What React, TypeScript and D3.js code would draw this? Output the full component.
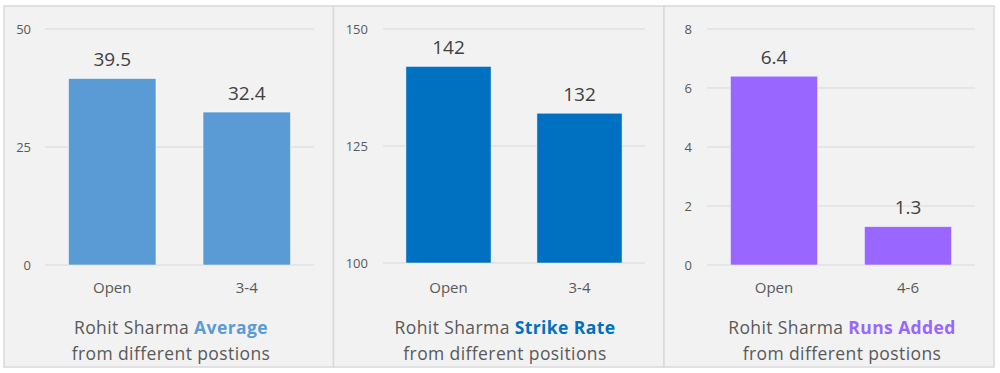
import React from 'react';
import * as d3 from 'd3';

// data
const averageCats = ['Open', '3-4'];
const averageVals = [39.5, 32.4];
const averageTicks = [0, 25, 50];

const strikeCats = ['Open', '3-4'];
const strikeVals = [142, 132];
const strikeTicks = [100, 125, 150];

const runsCats = ['Open', '4-6'];
const runsVals = [6.4, 1.3];
const runsTicks = [0, 2, 4, 6, 8];

const panels = [
  { cats: averageCats, vals: averageVals, ticks: averageTicks, label: 'Average', second: 'from different postions',
    color: '#5b9bd5', x0: 4, x1: 333.5, plot: [45, 314], base: 265, tickX: 31, titleX: 171 },
  { cats: strikeCats, vals: strikeVals, ticks: strikeTicks, label: 'Strike Rate', second: 'from different positions',
    color: '#0070c0', x0: 333.5, x1: 664, plot: [383, 645], base: 263, tickX: 368, titleX: 505 },
  { cats: runsCats, vals: runsVals, ticks: runsTicks, label: 'Runs Added', second: 'from different postions',
    color: '#9966ff', x0: 664, x1: 994, plot: [707, 975], base: 265, tickX: 692, titleX: 842 },
];

const TOP = 29;
const titleFont = '"Open Sans", "DejaVu Sans", sans-serif';
const valueFont = '"Open Sans", "Noto Sans", sans-serif';

function Panel({ p }: { p: typeof panels[number] }) {
  const x = d3.scaleBand<string>().domain(p.cats).range(p.plot as [number, number])
    .paddingInner(0.35).paddingOuter(0.175);
  const y = d3.scaleLinear()
    .domain([p.ticks[0], p.ticks[p.ticks.length - 1]])
    .range([p.base, TOP]);

  return (
    <g>
      <rect x={p.x0} y={6} width={p.x1 - p.x0} height={361} fill="#f2f2f2" stroke="#d9d9d9" strokeWidth={1.5} />
      {p.ticks.map(t => (
        <g key={t}>
          <line x1={p.plot[0]} x2={p.plot[1]} y1={y(t)} y2={y(t)} stroke="#d9d9d9" strokeWidth={1} />
          <text x={p.tickX} y={y(t)} dy="0.35em" textAnchor="end" fontSize={13} fill="#595959" fontFamily={valueFont}>{t}</text>
        </g>
      ))}
      {p.cats.map((c, i) => (
        <g key={c}>
          <rect x={x(c)} y={y(p.vals[i])} width={x.bandwidth()} height={y(p.ticks[0]) - y(p.vals[i])}
            fill={p.color} stroke="#ffffff" strokeOpacity={0.6} strokeWidth={0.8} />
          <text x={(x(c) ?? 0) + x.bandwidth() / 2} y={y(p.vals[i]) - 19} dy="0.35em" textAnchor="middle"
            fontSize={19} fill="#404040" fontFamily={valueFont}>{p.vals[i]}</text>
          <text x={(x(c) ?? 0) + x.bandwidth() / 2} y={288} dy="0.35em" textAnchor="middle"
            fontSize={15} fill="#595959" fontFamily={valueFont}>{c}</text>
        </g>
      ))}
      <text x={p.titleX} y={328} dy="0.35em" textAnchor="middle" fontSize={17.5} letterSpacing={0.4}
        fill="#595959" fontFamily={titleFont} fontWeight={500}>
        Rohit Sharma <tspan fill={p.color} fontWeight={700}>{p.label}</tspan>
      </text>
      <text x={p.titleX} y={354} dy="0.35em" textAnchor="middle" fontSize={17.5} letterSpacing={0.4}
        fill="#595959" fontFamily={titleFont} fontWeight={500}>
        {p.second}
      </text>
    </g>
  );
}

export default function App() {
  return (
    <svg width={1000} height={373} style={{ position: 'absolute', left: 0, top: 0, display: 'block' }}>
      <rect width={1000} height={373} fill="#ffffff" />
      {panels.map((p, i) => <Panel key={i} p={p} />)}
    </svg>
  );
}
